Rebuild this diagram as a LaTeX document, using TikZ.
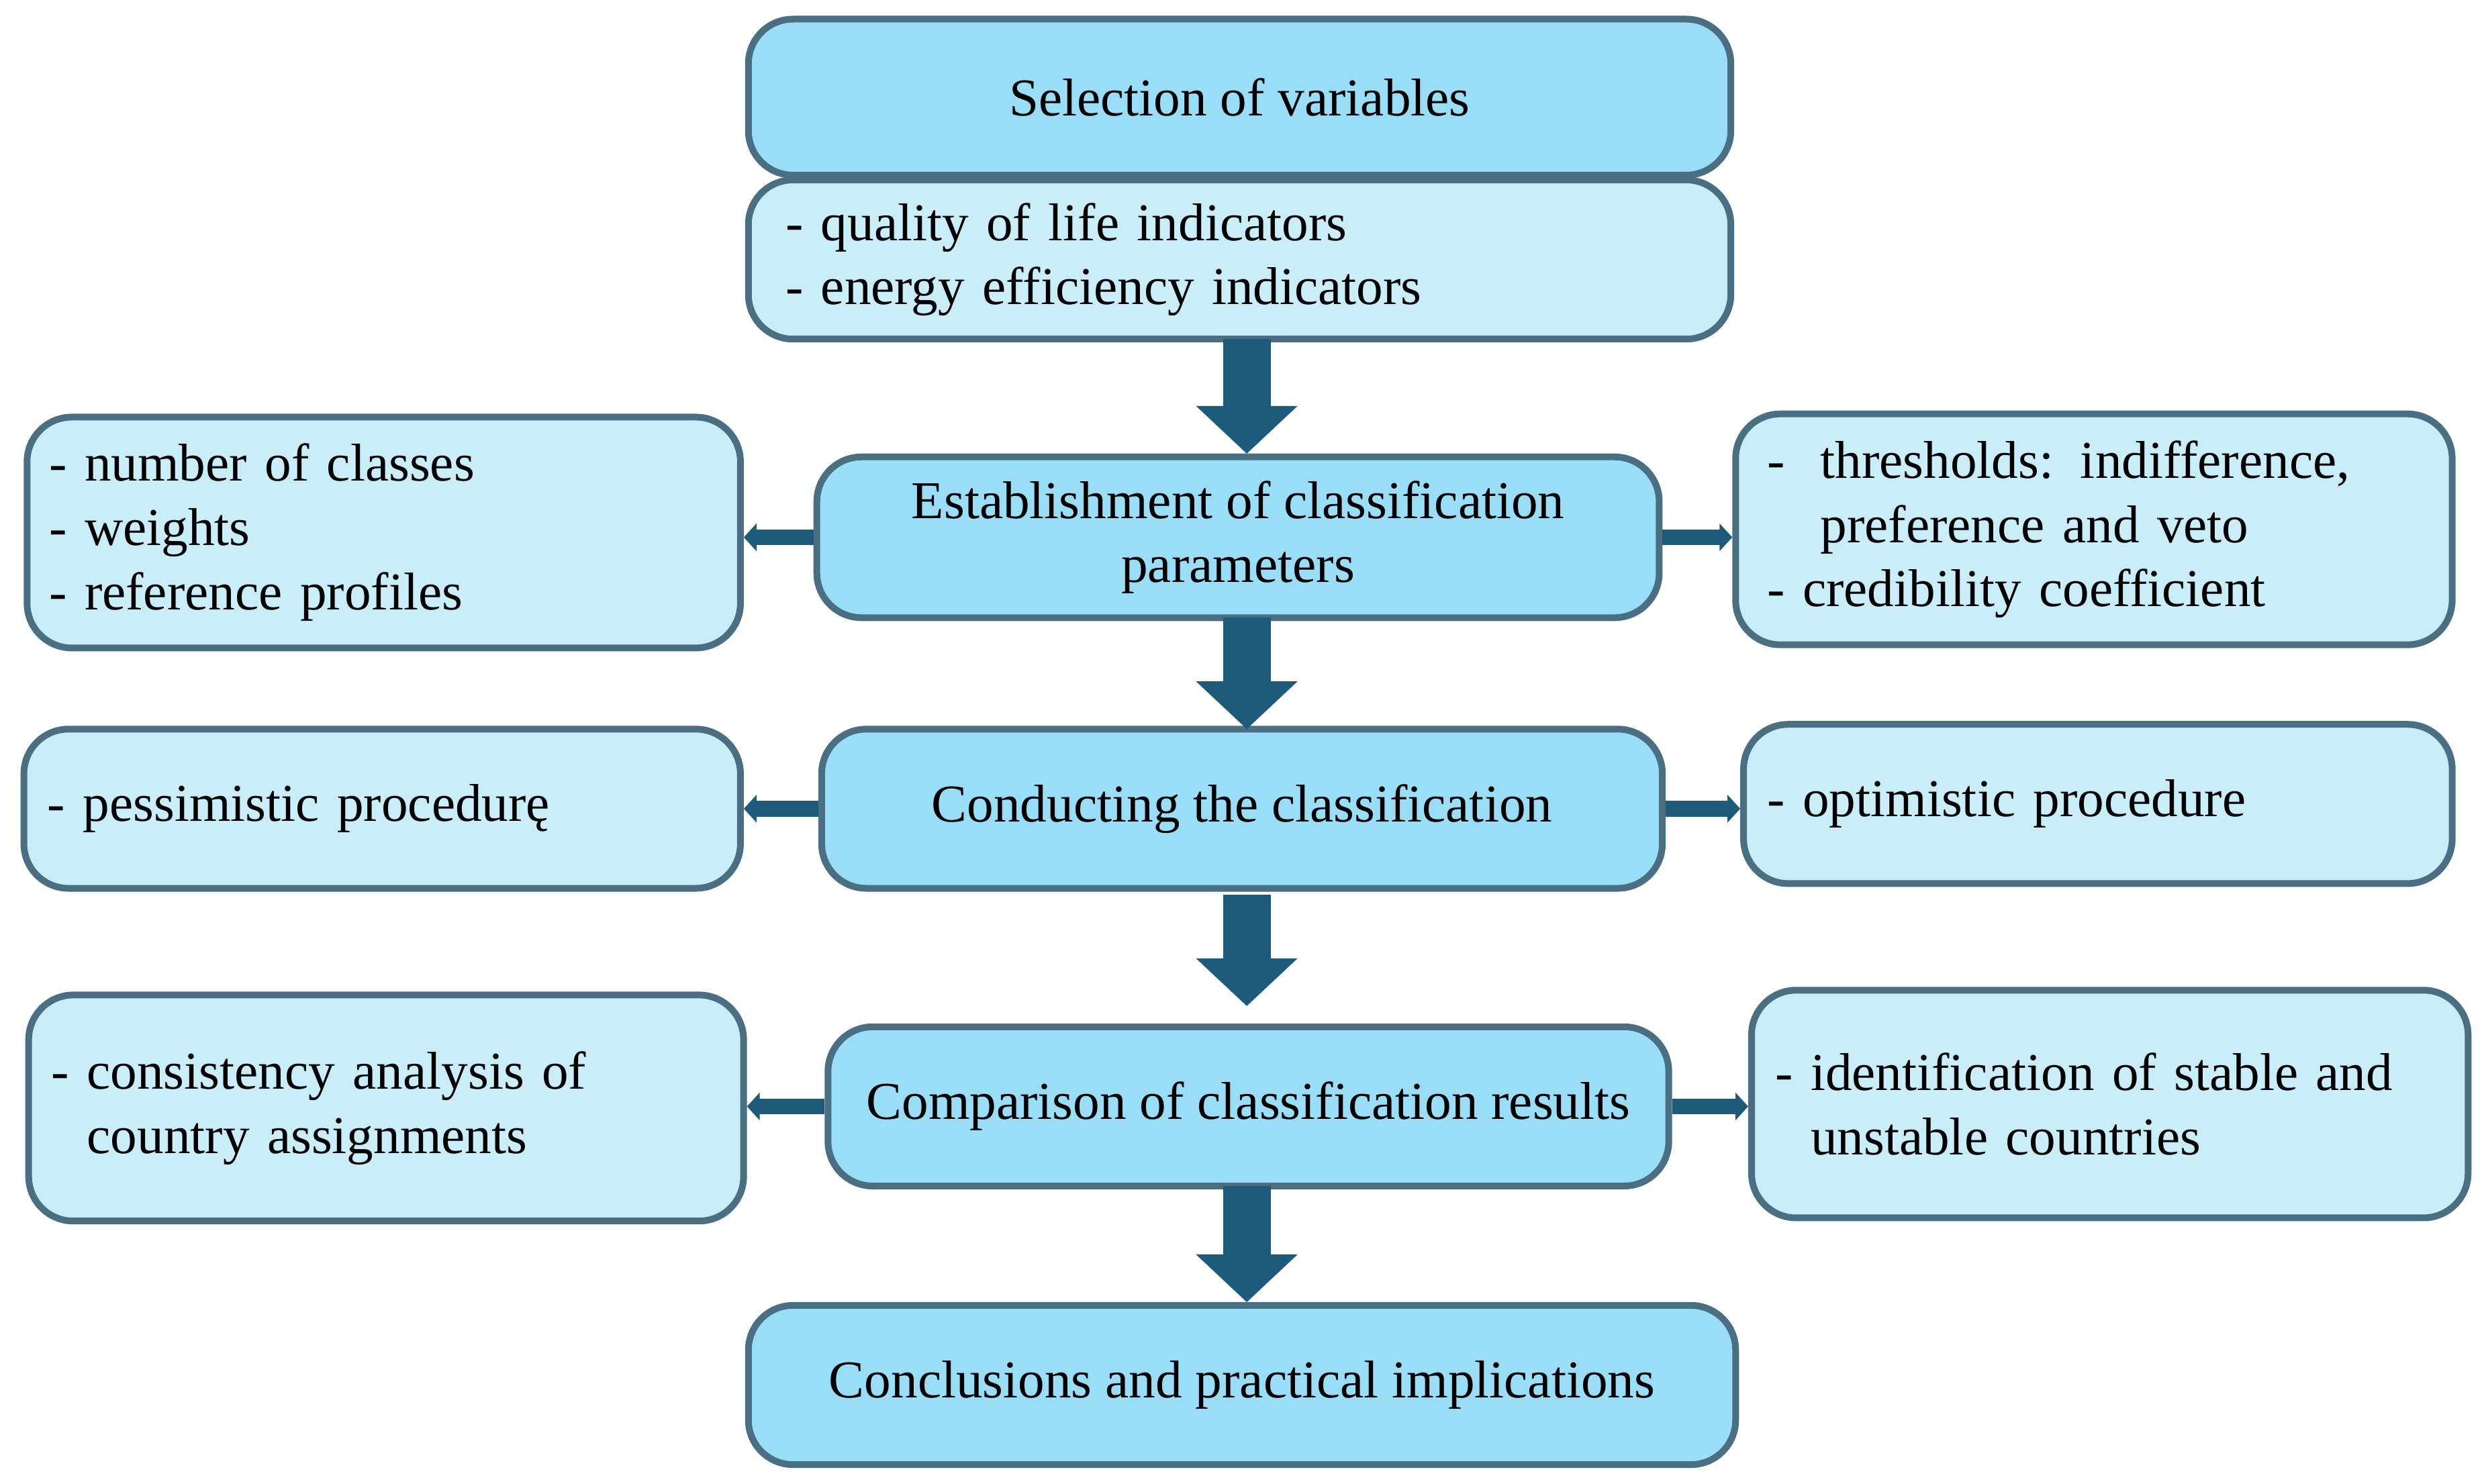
\documentclass[tikz,border=0pt]{standalone}
\usepackage{fontspec}
\setmainfont{Liberation Serif}
\usetikzlibrary{arrows.meta}
\definecolor{mainfill}{HTML}{99DDF6}
\definecolor{subfill}{HTML}{C9EDF9}
\definecolor{edge}{HTML}{4A6E82}
\definecolor{arr}{HTML}{1E5A7A}
\begin{document}
\begin{tikzpicture}[x=0.01cm,y=-0.01cm,
  box/.style={draw=edge,line width=1.2pt,rounded corners=0.28cm,inner sep=0pt,font=\fontsize{9.5}{11.5}\selectfont},
  main/.style={box,fill=mainfill,align=center},
  sub/.style={box,fill=subfill,align=left,text width=#1},
  big/.style={arr,line width=0.3cm,-{Triangle[width=0.62cm,length=0.3cm]},shorten >=0pt},
  small/.style={arr,line width=0.1cm,-{Triangle[width=0.17cm,length=0.08cm]}}]
\useasboundingbox (0,0) rectangle (1560,932);
\def\bx#1#2#3#4#5#6#7{\node[#2,minimum width=(#5-#3)*0.01cm,minimum height=(#6-#4)*0.01cm] (#1) at ({(#3+#5)/2},{(#4+#6)/2}) {#7};}
\bx{sel}{main}{470}{12}{1087}{110}{Selection of variables}
\bx{qual}{sub=5.7cm}{470}{113}{1087}{213}{- quality of life indicators\\- energy efficiency indicators}
\bx{est}{main}{513}{287}{1042}{388}{Establishment of classification\\parameters}
\bx{l1}{sub=4.2cm}{17}{262}{465}{407}{- number of classes\\- weights\\- reference profiles}
\bx{r1}{sub=4.1cm}{1090}{260}{1540}{405}{-\ \ thresholds: indifference,\\\ \ \ preference and veto\\- credibility coefficient}
\bx{con}{main}{516}{458}{1044}{558}{Conducting the classification}
\bx{l2}{sub=4.2cm}{15}{458}{465}{558}{- pessimistic procedurę}
\bx{r2}{sub=4.15cm}{1095}{455}{1540}{555}{- optimistic procedure}
\bx{cmp}{main}{520}{645}{1048}{745}{Comparison of classification results}
\bx{l3}{sub=4.2cm}{18}{625}{467}{767}{- consistency analysis of\\\ \ country assignments}
\bx{r3}{sub=4.2cm}{1100}{622}{1550}{765}{- identification of stable and\\\ \ unstable countries}
\bx{concl}{main}{470}{820}{1090}{920}{Conclusions and practical implications}
\draw[big] (783,213) -- (783,285);
\draw[big] (783,388) -- (783,458);
\draw[big] (783,562) -- (783,632);
\draw[big] (783,745) -- (783,818);
\draw[small] (est.west) -- (l1.east|-est.west);
\draw[small] (est.east) -- (r1.west|-est.east);
\draw[small] (con.west) -- (l2.east|-con.west);
\draw[small] (con.east) -- (r2.west|-con.east);
\draw[small] (cmp.west) -- (l3.east|-cmp.west);
\draw[small] (cmp.east) -- (r3.west|-cmp.east);
\end{tikzpicture}
\end{document}
